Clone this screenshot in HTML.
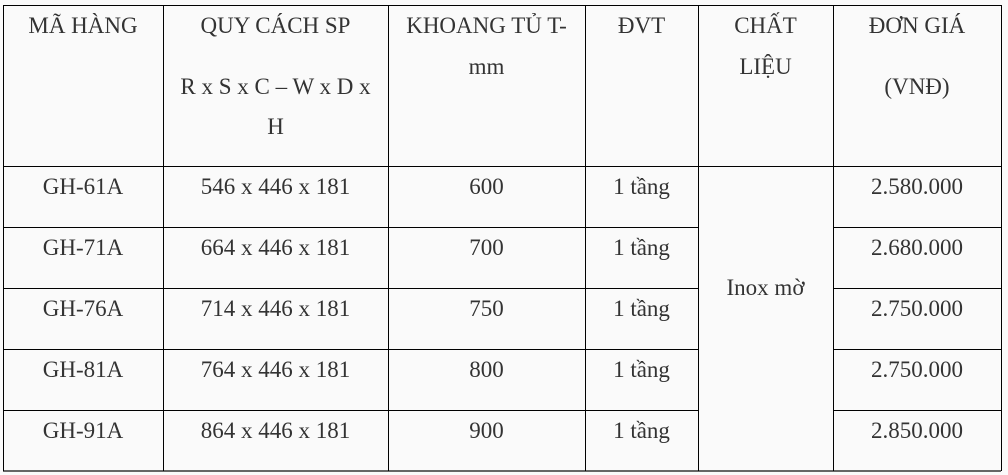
<!DOCTYPE html>
<html><head><meta charset="utf-8"><style>
body{margin:0;width:1008px;height:475px;background:#fafafa;position:relative;overflow:hidden;font-family:"Liberation Serif",serif;color:#333;font-size:23px}
.v{position:absolute;width:1px;background:#000;top:5px;height:466px}
.h{position:absolute;height:1px;background:#000;left:3px;width:998px}
.t{position:absolute;text-align:center;line-height:40px;height:40px;white-space:nowrap}
</style></head><body>
<div class="h" style="top:5px"></div>
<div class="h" style="top:166px"></div>
<div class="h" style="top:227px;width:696px"></div>
<div class="h" style="top:288px;width:696px"></div>
<div class="h" style="top:349px;width:696px"></div>
<div class="h" style="top:410px;width:696px"></div>
<div class="h" style="top:227px;left:833px;width:168px"></div>
<div class="h" style="top:288px;left:833px;width:168px"></div>
<div class="h" style="top:349px;left:833px;width:168px"></div>
<div class="h" style="top:410px;left:833px;width:168px"></div>
<div class="h" style="top:470px;background:#666;height:2px"></div>
<div class="v" style="left:3px"></div>
<div class="v" style="left:163px"></div>
<div class="v" style="left:388px"></div>
<div class="v" style="left:585px"></div>
<div class="v" style="left:698px"></div>
<div class="v" style="left:833px"></div>
<div class="v" style="left:1001px"></div>

<div class="t" style="left:3px;width:160px;top:6px">MÃ HÀNG</div>
<div class="t" style="left:163px;width:225px;top:6px">QUY CÁCH SP</div>
<div class="t" style="left:163px;width:225px;top:67px">R x S x C – W x D x</div>
<div class="t" style="left:163px;width:225px;top:107px">H</div>
<div class="t" style="left:388px;width:197px;top:6px">KHOANG TỦ T-</div>
<div class="t" style="left:388px;width:197px;top:47px">mm</div>
<div class="t" style="left:585px;width:113px;top:6px">ĐVT</div>
<div class="t" style="left:698px;width:135px;top:6px">CHẤT</div>
<div class="t" style="left:698px;width:135px;top:47px">LIỆU</div>
<div class="t" style="left:833px;width:168px;top:6px">ĐƠN GIÁ</div>
<div class="t" style="left:833px;width:168px;top:67px">(VNĐ)</div>
<div class="t" style="left:698px;width:135px;top:268px">Inox mờ</div>
<div id="rows"></div>
<script>
const codes=["GH-61A","GH-71A","GH-76A","GH-81A","GH-91A"];
const sizes=["546 x 446 x 181","664 x 446 x 181","714 x 446 x 181","764 x 446 x 181","864 x 446 x 181"];
const spans=["600","700","750","800","900"];
const units=["1 tầng","1 tầng","1 tầng","1 tầng","1 tầng"];
const prices=["2.580.000","2.680.000","2.750.000","2.750.000","2.850.000"];
const cols=[[3,160,codes,'product-code'],[163,225,sizes,'product-size'],[388,197,spans,'cabinet-width'],[585,113,units,'unit'],[833,168,prices,'price']];
const root=document.getElementById('rows');
codes.forEach((c,i)=>{cols.forEach(col=>{
 const d=document.createElement('div');d.className='t';
 
 
 d.style.left=col[0]+'px';d.style.width=col[1]+'px';d.style.top=(167+i*61)+'px';
 d.textContent=col[2][i];root.appendChild(d);});});
</script>
</body></html>
